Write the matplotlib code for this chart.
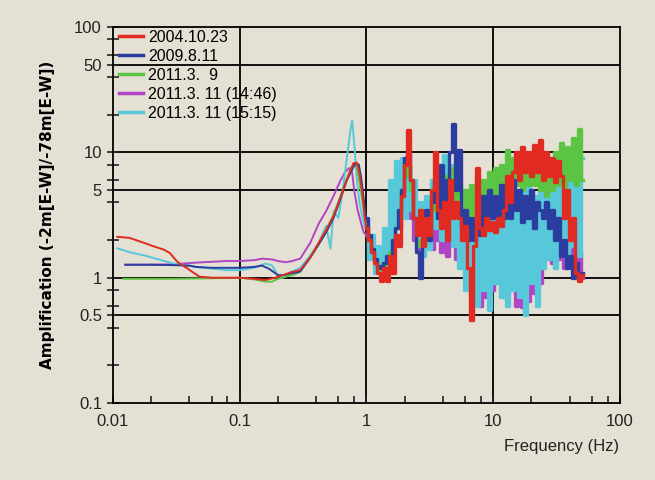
import matplotlib.pyplot as plt
from matplotlib.ticker import FixedLocator, FixedFormatter, NullFormatter

# legend order
labels = ["2004.10.23", "2009.8.11", "2011.3.  9", "2011.3. 11 (14:46)", "2011.3. 11 (15:15)"]
colors = ["#e02a22", "#2b3d9e", "#5cc443", "#b044c4", "#56c8da"]

# low frequency part (smooth), per series
red_lo_f = [0.0108, 0.0135, 0.017, 0.021, 0.025, 0.028, 0.032, 0.035, 0.038, 0.043, 0.048, 0.06,
            0.08, 0.1, 0.13, 0.16, 0.19, 0.22, 0.25, 0.3, 0.36, 0.42, 0.48, 0.55, 0.62, 0.68,
            0.74, 0.79, 0.84, 0.88, 0.93, 0.97]
red_lo_a = [2.12, 2.08, 1.92, 1.78, 1.68, 1.58, 1.35, 1.26, 1.2, 1.1, 1.02, 1.0,
            1.0, 1.0, 0.98, 0.96, 1.0, 1.05, 1.1, 1.15, 1.45, 1.9, 2.4, 3.1, 4.3, 5.6,
            7.0, 8.2, 8.3, 6.8, 4.6, 3.0]

blue_lo_f = [0.0125, 0.02, 0.03, 0.04, 0.045, 0.06, 0.08, 0.1, 0.13, 0.15, 0.17, 0.2, 0.22,
             0.25, 0.3, 0.36, 0.42, 0.48, 0.55, 0.62, 0.7, 0.77, 0.82, 0.87, 0.91, 0.95, 0.98]
blue_lo_a = [1.27, 1.27, 1.26, 1.25, 1.22, 1.2, 1.2, 1.2, 1.22, 1.25, 1.18, 1.05, 1.05,
             1.08, 1.12, 1.45, 1.85, 2.3, 3.0, 4.2, 6.0, 7.3, 8.2, 8.0, 6.2, 4.3, 3.2]

green_lo_f = [0.012, 0.03, 0.06, 0.1, 0.13, 0.16, 0.18, 0.2, 0.23, 0.27, 0.3, 0.36, 0.42,
              0.48, 0.55, 0.62, 0.7, 0.76, 0.8, 0.84, 0.88, 0.93, 0.97]
green_lo_a = [0.98, 0.98, 0.99, 1.0, 0.97, 0.93, 0.93, 0.98, 1.02, 1.06, 1.12, 1.45, 1.85,
              2.4, 3.2, 4.4, 6.2, 7.6, 8.2, 7.5, 5.8, 4.0, 3.0]

purple_lo_f = [0.0125, 0.02, 0.03, 0.045, 0.06, 0.08, 0.1, 0.13, 0.15, 0.18, 0.2, 0.23, 0.26,
               0.3, 0.36, 0.42, 0.48, 0.55, 0.62, 0.68, 0.73, 0.77, 0.8, 0.85, 0.9, 0.95]
purple_lo_a = [1.27, 1.27, 1.28, 1.32, 1.34, 1.36, 1.36, 1.38, 1.42, 1.4, 1.36, 1.33, 1.36,
               1.42, 1.9, 2.7, 3.4, 4.5, 5.9, 7.0, 7.5, 7.0, 5.0, 3.5, 2.8, 2.3]

cyan_lo_f = [0.0108, 0.0135, 0.018, 0.024, 0.03, 0.035, 0.045, 0.06, 0.08, 0.1, 0.13, 0.16,
             0.18, 0.2, 0.22, 0.25, 0.3, 0.36, 0.42, 0.48, 0.52, 0.55, 0.6, 0.65, 0.7, 0.74,
             0.77, 0.8, 0.84, 0.88, 0.93, 0.97]
cyan_lo_a = [1.72, 1.6, 1.5, 1.38, 1.3, 1.27, 1.22, 1.18, 1.15, 1.15, 1.2, 1.3,
             1.25, 1.05, 1.0, 1.1, 1.2, 1.5, 1.9, 2.6, 1.7, 3.4, 3.0, 5.0, 9.0, 14.0,
             18.0, 12.0, 6.0, 4.0, 3.0, 2.5]

# high frequency part (noisy), shared frequency grid
freq_hi = [1.00, 1.06, 1.12, 1.18, 1.25, 1.32, 1.39, 1.47, 1.55, 1.64, 1.73, 1.83, 1.93, 2.04,
           2.15, 2.27, 2.40, 2.53, 2.67, 2.82, 2.98, 3.15, 3.32, 3.51, 3.70, 3.91, 4.13, 4.36,
           4.60, 4.86, 5.13, 5.42, 5.72, 6.04, 6.38, 6.74, 7.12, 7.52, 7.94, 8.38, 8.85, 9.35,
           9.87, 10.4, 11.0, 11.6, 12.3, 13.0, 13.7, 14.5, 15.3, 16.1, 17.0, 18.0, 19.0, 20.0,
           21.2, 22.4, 23.6, 24.9, 26.3, 27.8, 29.4, 31.0, 32.7, 34.6, 36.5, 38.5, 40.7, 43.0,
           45.4, 48.0, 50.7]

red_hi = [2.5, 2.0, 1.6, 1.3, 1.1, 0.95, 1.2, 0.95, 1.5, 1.1, 2.2, 1.8, 4.5, 8.0,
          15.0, 6.0, 3.0, 2.2, 3.5, 1.8, 3.0, 2.2, 5.0, 10.0, 3.5, 2.5, 4.0, 2.0,
          6.0, 3.0, 4.0, 3.0, 2.0, 2.6, 1.2, 0.46, 1.8, 7.5, 2.5, 2.2, 3.0, 2.4,
          2.8, 2.3, 3.0, 2.6, 3.5, 6.5, 4.0, 7.0, 10.0, 6.0, 11.0, 7.0, 10.0, 6.5,
          11.5, 7.0, 12.5, 6.0, 10.0, 6.5, 9.0, 5.8, 8.5, 6.5, 3.0, 5.0, 2.0, 3.0,
          1.1, 0.95, 1.05]

blue_hi = [3.0, 2.2, 1.7, 1.4, 1.25, 1.2, 1.3, 1.5, 1.3, 2.0, 2.5, 3.5, 5.0, 9.0,
           10.0, 6.0, 3.0, 1.6, 1.0, 2.0, 3.5, 2.0, 4.0, 6.0, 3.0, 8.0, 4.0, 6.0,
           10.0, 17.0, 5.0, 10.5, 2.5, 3.5, 2.0, 3.0, 2.0, 2.8, 2.2, 4.5, 2.5, 5.0,
           3.0, 4.5, 2.8, 5.5, 3.0, 5.0, 3.0, 6.0, 3.5, 5.0, 2.8, 4.5, 3.0, 5.0,
           2.5, 4.0, 3.5, 3.0, 4.0, 2.5, 3.5, 2.0, 3.0, 1.5, 2.0, 1.2, 1.5, 1.0,
           1.3, 1.0, 1.1]

green_hi = [2.6, 2.0, 1.6, 1.35, 1.2, 1.1, 1.3, 1.2, 1.6, 2.0, 2.5, 3.5, 5.0, 6.5,
            8.0, 5.0, 3.0, 2.0, 1.8, 2.5, 3.0, 2.5, 3.5, 4.5, 3.0, 5.0, 4.0, 6.5,
            4.0, 7.5, 3.5, 6.0, 3.0, 5.0, 2.8, 5.5, 3.0, 6.5, 3.5, 6.0, 3.5, 7.0,
            4.0, 7.5, 4.2, 8.0, 5.0, 10.5, 5.0, 9.0, 5.5, 9.5, 5.0, 9.0, 5.5, 9.5,
            5.5, 8.5, 5.0, 8.0, 4.5, 9.0, 5.0, 10.0, 5.5, 12.0, 5.0, 11.0, 6.0, 13.0,
            5.5, 15.5, 6.0]

purple_hi = [2.2, 1.8, 1.5, 1.4, 1.3, 1.3, 1.5, 1.4, 2.0, 1.8, 2.8, 2.5, 4.0, 5.0,
             4.0, 3.0, 2.0, 2.5, 1.5, 3.0, 1.8, 3.5, 1.7, 3.0, 2.0, 1.6, 2.5, 1.5,
             3.0, 2.2, 1.4, 2.5, 1.6, 2.0, 0.9, 1.4, 0.8, 1.5, 0.6, 1.4, 0.7, 1.6,
             0.8, 1.3, 0.9, 1.5, 0.7, 1.2, 0.8, 1.6, 0.6, 1.4, 0.58, 1.3, 0.65, 1.5,
             0.75, 1.4, 0.9, 1.6, 1.4, 1.8, 1.3, 1.7, 1.4, 1.6, 1.2, 1.5, 1.3, 1.7,
             1.1, 1.6, 1.0]

cyan_hi = [2.5, 1.4, 2.2, 1.1, 1.8, 1.0, 2.5, 1.3, 6.0, 2.0, 8.5, 2.5, 9.0, 3.0,
           7.0, 3.5, 6.0, 1.8, 4.0, 1.5, 4.5, 1.7, 6.0, 2.5, 8.0, 2.0, 9.5, 2.5,
           8.0, 1.8, 6.0, 1.2, 5.0, 0.8, 3.5, 0.5, 3.0, 0.6, 3.5, 0.8, 4.0, 0.55,
           3.5, 0.9, 4.0, 0.7, 3.8, 0.6, 4.5, 0.8, 4.0, 0.7, 5.0, 0.5, 5.5, 0.9,
           4.5, 0.6, 5.0, 1.2, 6.0, 1.4, 6.5, 1.2, 6.0, 1.6, 7.0, 1.3, 8.0, 1.8,
           7.5, 1.5, 9.0]

# (low f, low amp, high amp, zorder), same order as labels
series = [
    (red_lo_f, red_lo_a, red_hi, 6),
    (blue_lo_f, blue_lo_a, blue_hi, 5),
    (green_lo_f, green_lo_a, green_hi, 4),
    (purple_lo_f, purple_lo_a, purple_hi, 2),
    (cyan_lo_f, cyan_lo_a, cyan_hi, 3),
]

bg = "#e4e0d3"
fig = plt.figure(figsize=(6.55, 4.80), dpi=100, facecolor=bg)
ax = fig.add_axes([0.1725, 0.1604, 0.774, 0.783])
ax.set_facecolor(bg)

for (lo_f, lo_a, hi_a, z), lab, col in zip(series, labels, colors):
    # smooth part up to the first point of the noisy part
    ax.plot(lo_f + freq_hi[:1], lo_a + hi_a[:1], color=col, lw=1.4, label=lab, zorder=z)
    # noisy part drawn as dense spikes
    ax.plot(freq_hi, hi_a, color=col, lw=2.4, drawstyle="steps-mid", zorder=z)

ax.set_xscale("log")
ax.set_yscale("log")
ax.set_xlim(0.01, 100)
ax.set_ylim(0.1, 100)

# grid lines drawn explicitly like the original
for x in [0.1, 1, 10]:
    ax.axvline(x, color="black", lw=1.3, zorder=1)
for y in [0.5, 1, 5, 10, 50]:
    ax.axhline(y, color="black", lw=1.3, zorder=1)

for side in ["left", "bottom", "right", "top"]:
    ax.spines[side].set_linewidth(1.3)
    ax.spines[side].set_color("black")

ax.xaxis.set_major_locator(FixedLocator([0.01, 0.1, 1, 10, 100]))
ax.xaxis.set_major_formatter(FixedFormatter(["0.01", "0.1", "1", "10", "100"]))
ax.xaxis.set_minor_locator(FixedLocator([0.02, 0.04, 0.06, 0.08, 0.2, 0.4, 0.6, 0.8,
                                         2, 4, 6, 8, 20, 40, 60, 80]))
ax.xaxis.set_minor_formatter(NullFormatter())
ax.yaxis.set_major_locator(FixedLocator([0.1, 0.5, 1, 5, 10, 50, 100]))
ax.yaxis.set_major_formatter(FixedFormatter(["0.1", "0.5", "1", "5", "10", "50", "100"]))
ax.yaxis.set_minor_locator(FixedLocator([0.2, 0.4, 0.6, 0.8, 2, 4, 6, 8, 20, 40, 60, 80]))
ax.yaxis.set_minor_formatter(NullFormatter())

ax.tick_params(axis="x", which="both", direction="in", length=5, width=1.2,
               labelsize=12, pad=8, colors="#222222")
ax.tick_params(axis="y", which="both", direction="inout", length=8, width=1.2,
               labelsize=12, pad=4, colors="#222222")

for t in ax.get_xticklabels() + ax.get_yticklabels():
    t.set_family("Liberation Sans")

ax.set_ylabel("Amplification (-2m[E-W]/-78m[E-W])", fontsize=11, fontweight="bold",
              labelpad=14)
fig.text(0.945, 0.055, "Frequency (Hz)", ha="right", va="bottom", fontsize=12,
         family="Liberation Sans", color="#222222")

leg = ax.legend(loc="upper left", frameon=False, handlelength=1.5,
                handletextpad=0.3, labelspacing=0.25, borderaxespad=0.0,
                bbox_to_anchor=(0.0, 1.01),
                prop={"family": "Liberation Sans", "size": 11.5})
for line in leg.get_lines():
    line.set_linewidth(2.5)

fig.savefig("out.png", dpi=100, facecolor=bg)
